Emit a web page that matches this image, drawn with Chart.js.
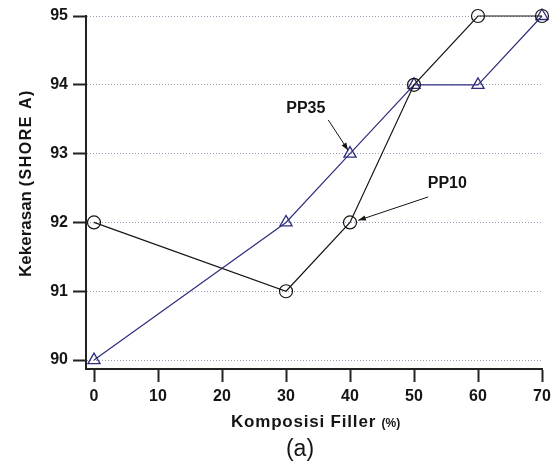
<!DOCTYPE html>
<html>
<head>
<meta charset="utf-8">
<script src="https://cdn.jsdelivr.net/npm/chart.js@4/dist/chart.umd.min.js"></script>
<style>
  body { margin: 0; background: #fff; }
  canvas { display: block; }
</style>
</head>
<body>
<canvas id="hardnessChart" width="556" height="464"></canvas>
<script>
// Data
const fillerPct = [0, 30, 40, 50, 60, 70];
const pp10 = [92, 91, 92, 94, 95, 95];
const pp35 = [90, 92, 93, 94, 94, 95];
const xTickVals = [0, 10, 20, 30, 40, 50, 60, 70];
const yTickVals = [90, 91, 92, 93, 94, 95];

const FONT = '"Liberation Sans", Arial, sans-serif';
const INK = '#151515';
const NAVY = '#2e2e7e';

function toPoints(ys) {
  return fillerPct.map(function (x, i) { return { x: x, y: ys[i] }; });
}

// Arrow labels, anchored in data units
const callouts = [
  { text: 'PP35', tx: 33.1, ty: 93.65, from: [36.6, 93.49], to: [39.7, 93.05] },
  { text: 'PP10', tx: 55.2, ty: 92.56, from: [52.2, 92.37], to: [41.3, 92.03] }
];

const calloutPlugin = {
  id: 'callouts',
  afterDatasetsDraw: function (chart) {
    const ctx = chart.ctx;
    const xs = chart.scales.x, ys = chart.scales.y;
    ctx.save();
    ctx.fillStyle = INK;
    ctx.strokeStyle = INK;
    ctx.font = 'bold 16px ' + FONT;
    ctx.textAlign = 'center';
    ctx.textBaseline = 'middle';
    callouts.forEach(function (c) {
      ctx.fillText(c.text, xs.getPixelForValue(c.tx), ys.getPixelForValue(c.ty));
      const x1 = xs.getPixelForValue(c.from[0]), y1 = ys.getPixelForValue(c.from[1]);
      const x2 = xs.getPixelForValue(c.to[0]), y2 = ys.getPixelForValue(c.to[1]);
      ctx.lineWidth = 1;
      ctx.beginPath();
      ctx.moveTo(x1, y1);
      ctx.lineTo(x2, y2);
      ctx.stroke();
      // arrow head
      const a = Math.atan2(y2 - y1, x2 - x1);
      const len = 8, spread = 0.35;
      ctx.beginPath();
      ctx.moveTo(x2, y2);
      ctx.lineTo(x2 - len * Math.cos(a - spread), y2 - len * Math.sin(a - spread));
      ctx.lineTo(x2 - len * Math.cos(a + spread), y2 - len * Math.sin(a + spread));
      ctx.closePath();
      ctx.fill();
    });
    ctx.restore();
  }
};

// Axis titles with the smaller unit part, plus the "(a)" caption
const titlePlugin = {
  id: 'axisTitles',
  afterDraw: function (chart) {
    const ctx = chart.ctx;
    ctx.save();
    ctx.fillStyle = INK;
    ctx.textBaseline = 'alphabetic';
    ctx.textAlign = 'left';

    // x title
    ctx.font = 'bold 17px ' + FONT;
    ctx.letterSpacing = '0.8px';
    const partA = 'Komposisi Filler ';
    const wA = ctx.measureText(partA).width;
    ctx.fillText(partA, 231, 427);
    ctx.letterSpacing = '0px';
    ctx.font = 'bold 12px ' + FONT;
    ctx.fillText('(%)', 231 + wA, 427);

    // caption
    ctx.font = '23px ' + FONT;
    ctx.textAlign = 'center';
    ctx.fillText('(a)', 300, 456);

    // y title, reading upwards from y = 277
    ctx.translate(31, 277);
    ctx.rotate(-Math.PI / 2);
    ctx.textAlign = 'left';
    ctx.font = 'bold 17px ' + FONT;
    const yA = 'Kekerasan ';
    const wyA = ctx.measureText(yA).width;
    ctx.fillText(yA, 0, 0);
    ctx.font = 'bold 16px ' + FONT;
    ctx.letterSpacing = '1.5px';
    ctx.fillText('(SHORE A)', wyA, 0);
    ctx.restore();
  }
};

new Chart(document.getElementById('hardnessChart'), {
  type: 'scatter',
  data: {
    datasets: [
      {
        label: 'PP10',
        data: toPoints(pp10),
        showLine: true,
        clip: false,
        borderColor: INK,
        borderWidth: 1.2,
        pointStyle: 'circle',
        pointRadius: 6.5,
        pointBorderWidth: 1.2,
        pointBorderColor: INK,
        pointBackgroundColor: 'rgba(255,255,255,0)'
      },
      {
        label: 'PP35',
        data: toPoints(pp35),
        showLine: true,
        clip: false,
        borderColor: NAVY,
        borderWidth: 1.2,
        pointStyle: 'triangle',
        pointRadius: 7,
        pointBorderWidth: 1.3,
        pointBorderColor: NAVY,
        pointBackgroundColor: 'rgba(255,255,255,0)'
      }
    ]
  },
  options: {
    responsive: false,
    animation: false,
    layout: { padding: { top: 16, right: 14, left: 0, bottom: 0 } },
    plugins: {
      legend: { display: false },
      tooltip: { enabled: false }
    },
    scales: {
      x: {
        type: 'linear',
        min: -1.25,
        max: 70,
        afterBuildTicks: function (scale) {
          scale.ticks = xTickVals.map(function (v) { return { value: v }; });
        },
        afterFit: function (scale) { scale.height = 95; },
        ticks: {
          color: INK,
          font: { family: FONT, size: 16, weight: 'bold' },
          padding: 5,
          maxRotation: 0
        },
        grid: {
          drawOnChartArea: false,
          tickLength: 13,
          tickColor: '#222',
          tickWidth: 2
        },
        border: { color: '#222', width: 2 }
      },
      y: {
        min: 89.87,
        max: 95,
        afterBuildTicks: function (scale) {
          scale.ticks = yTickVals.map(function (v) { return { value: v }; });
        },
        afterFit: function (scale) { scale.width = 86; },
        ticks: {
          color: INK,
          font: { family: FONT, size: 16, weight: 'bold' },
          padding: 5
        },
        grid: {
          color: '#9a9cb8',
          lineWidth: 1,
          tickLength: 13,
          tickColor: '#222',
          tickWidth: 2,
          tickBorderDash: [1, 0]
        },
        border: { color: '#222', width: 2, dash: [1, 2] }
      }
    }
  },
  plugins: [calloutPlugin, titlePlugin]
});
</script>
</body>
</html>
